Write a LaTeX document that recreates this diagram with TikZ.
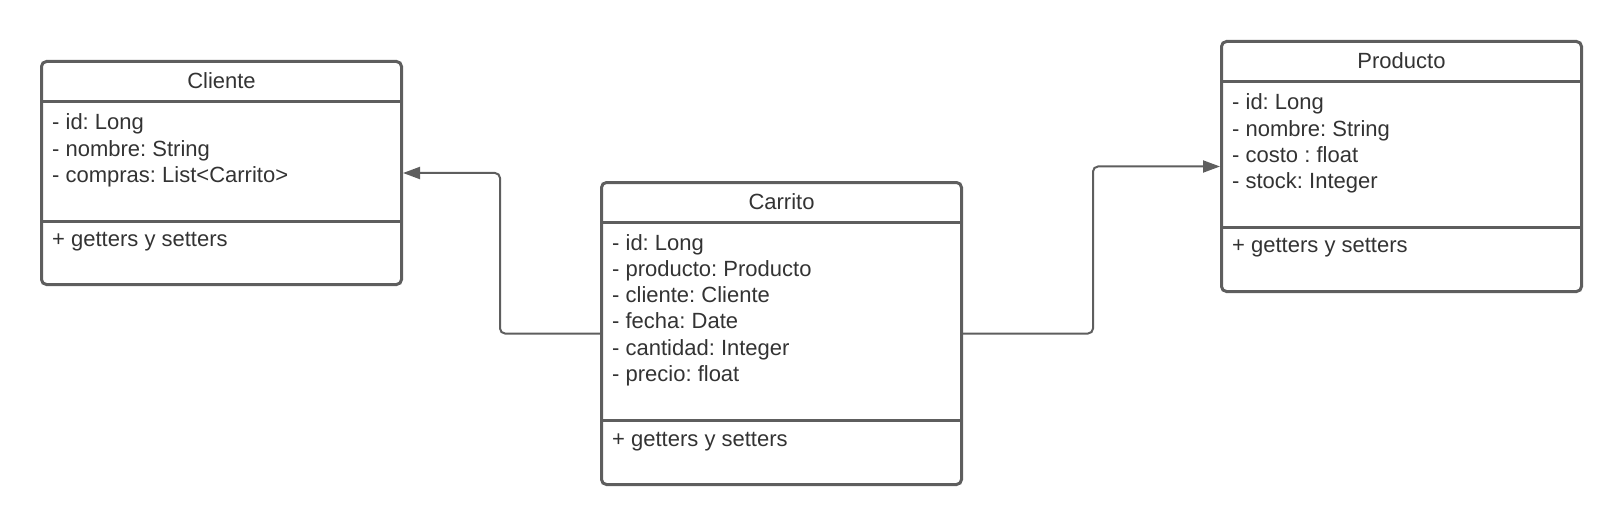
\documentclass[tikz,border=0pt]{standalone}
\usepackage{fontspec}
\setmainfont{Liberation Sans}
\frenchspacing
\usetikzlibrary{arrows.meta,calc}
\definecolor{linec}{HTML}{5E5E5E}
\definecolor{txtc}{HTML}{333333}
\tikzset{
  classbox/.style={draw=linec, line width=3pt, rounded corners=5pt, inner sep=0pt, anchor=north west},
  divider/.style={draw=linec, line width=3pt},
  conn/.style={draw=linec, line width=2pt, rounded corners=5pt, -{Triangle[length=17pt,width=12pt]}},
  ctitle/.style={font=\fontsize{22}{26}\selectfont, text=txtc, inner sep=0pt},
  item/.style={font=\fontsize{22}{26}\selectfont, text=txtc, inner sep=0pt, anchor=base west},
}
\begin{document}
\begin{tikzpicture}[x=1pt,y=-1pt]
\useasboundingbox (0,0) rectangle (1620,524);
% Cliente
\node[classbox, minimum width=360pt, minimum height=223pt] (cliente) at (40,60) {};
\draw[divider] (cliente.west |- 0,102) -- (cliente.east |- 0,102);
\draw[divider] (cliente.west |- 0,221) -- (cliente.east |- 0,221);
\node[ctitle] (clienteT) at ($(cliente.north)+(0,21)$) {Cliente};
\node[item] (cl1) at (52,130) {- id: Long};
\node[item] (cl2) at (52,156.3) {- nombre: String};
\node[item] (cl3) at (52,182.6) {- compras: List<Carrito>};
\node[item] (clm) at (52,246) {+ getters y setters};
% Carrito
\node[classbox, minimum width=360pt, minimum height=302pt] (carrito) at (600,181) {};
\draw[divider] (carrito.west |- 0,222) -- (carrito.east |- 0,222);
\draw[divider] (carrito.west |- 0,420) -- (carrito.east |- 0,420);
\node[ctitle] (carritoT) at ($(carrito.north)+(0,21)$) {Carrito};
\node[item] (ca1) at (612,250) {- id: Long};
\node[item] (ca2) at (612,276.3) {- producto: Producto};
\node[item] (ca3) at (612,302.6) {- cliente: Cliente};
\node[item] (ca4) at (612,328.9) {- fecha: Date};
\node[item] (ca5) at (612,355.2) {- cantidad: Integer};
\node[item] (ca6) at (612,381.5) {- precio: float};
\node[item] (cam) at (612,446) {+ getters y setters};
% Producto
\node[classbox, minimum width=360pt, minimum height=250pt] (producto) at (1220,40) {};
\draw[divider] (producto.west |- 0,82) -- (producto.east |- 0,82);
\draw[divider] (producto.west |- 0,227) -- (producto.east |- 0,227);
\node[ctitle] (productoT) at ($(producto.north)+(0,21)$) {Producto};
\node[item] (pr1) at (1232,110) {- id: Long};
\node[item] (pr2) at (1232,136.3) {- nombre: String};
\node[item] (pr3) at (1232,162.6) {- costo : float};
\node[item] (pr4) at (1232,188.9) {- stock: Integer};
\node[item] (prm) at (1232,252) {+ getters y setters};
% connectors
\draw[conn] (carrito.west) -- ++(-100,0) |- (cliente.east);
\draw[conn] (carrito.east) -- ++(130,0) |- (producto.west);
\end{tikzpicture}
\end{document}
